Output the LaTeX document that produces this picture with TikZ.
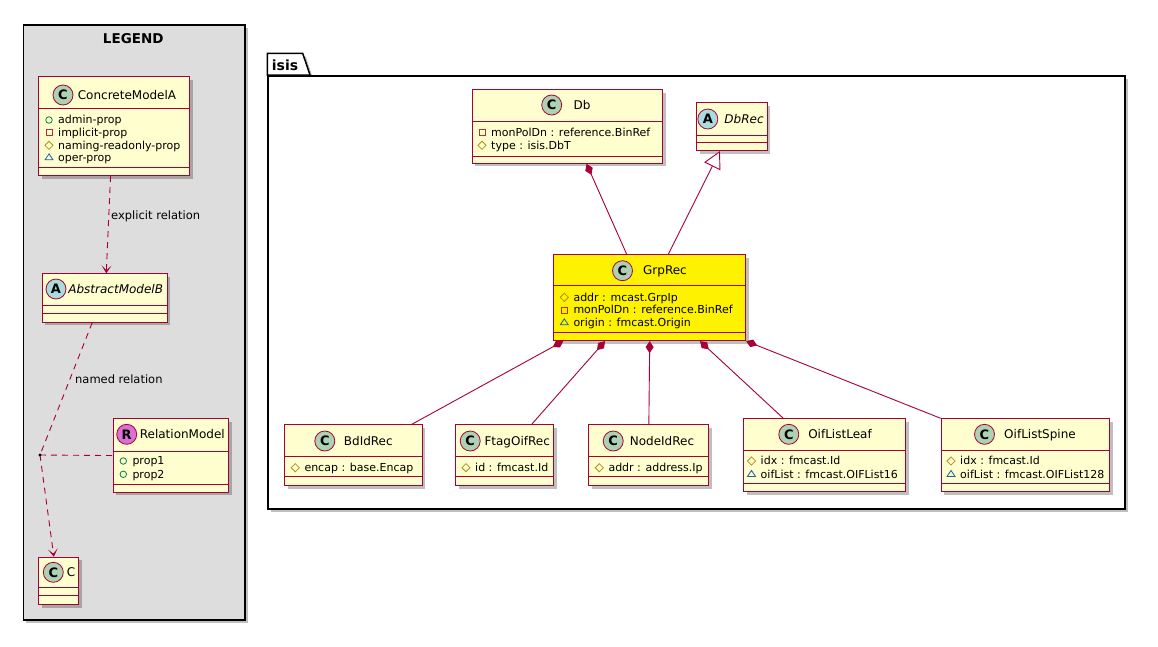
\documentclass[tikz,border=0pt]{standalone}
\usepackage{fontspec}
\setmainfont{DejaVu Sans}
\usepackage{xcolor}
\usepackage{tikz}
\usetikzlibrary{arrows.meta,positioning,shadows,shapes.geometric}
\definecolor{umlred}{HTML}{A80036}
\definecolor{umlfill}{HTML}{FEFECE}
\definecolor{spotC}{HTML}{ADD1B2}
\definecolor{spotA}{HTML}{A9DCDF}
\definecolor{spotR}{HTML}{DA70D6}
\definecolor{vpub}{HTML}{038048}
\definecolor{vpriv}{HTML}{C82930}
\definecolor{vprot}{HTML}{B38D22}
\definecolor{vpkg}{HTML}{1963A0}
\definecolor{legendbg}{HTML}{DDDDDD}

\begin{document}
\begin{tikzpicture}[x=1pt,y=-1pt,
      myshadow/.style={
         drop shadow={shadow xshift=3pt,shadow yshift=-3pt,opacity=0.25,fill=black}},
      classbox/.style={
         draw=umlred,
         line width=1.1pt,
         inner sep=0pt,
         anchor=north west,
         myshadow},
      sepline/.style={draw=umlred, line width=0.9pt},
      spot/.style={
         circle,
         draw=umlred,
         line width=0.8pt,
         minimum size=20pt,
         inner sep=0pt,
         font=\fontsize{13}{13}\selectfont\bfseries},
      clsname/.style={anchor=base, inner sep=0pt, font=\fontsize{12}{14}\selectfont},
      absname/.style={clsname, font=\fontsize{12}{14}\selectfont\itshape},
      attr/.style={anchor=base west, inner sep=0pt, font=\fontsize{11}{13}\selectfont},
      vispub/.style={circle, draw=vpub, line width=0.8pt, minimum size=6.5pt, inner sep=0pt},
      vispriv/.style={rectangle, draw=vpriv, line width=0.8pt, minimum size=6pt, inner sep=0pt},
      visprot/.style={diamond, draw=vprot, line width=0.8pt, minimum size=8.5pt, inner sep=0pt},
      vispkg/.style={isosceles triangle, shape border rotate=90, isosceles triangle stretches,
         draw=vpkg, line width=0.8pt, minimum height=6pt, minimum width=8pt, inner sep=0pt},
      comp/.style={draw=umlred, line width=0.9pt, {Diamond[length=12pt,width=8pt]}-},
      inherit/.style={draw=umlred, line width=0.9pt, {Triangle[open,fill=white,length=17pt,width=18pt]}-},
      dashline/.style={draw=umlred, line width=0.9pt, dash pattern=on 6pt off 5pt},
      dep/.style={dashline, -{Stealth[length=8pt,width=10pt,inset=5pt]}},
      edgelabel/.style={font=\fontsize{11.5}{13}\selectfont, inner sep=2pt},
      boxtitle/.style={anchor=base, inner sep=0pt, font=\fontsize{13.5}{15}\selectfont\bfseries},
      pkgline/.style={draw=black, line width=1.5pt, fill=white, myshadow}
      ]
      \useasboundingbox (0,0) rectangle (1158,646);

      % legend frame
      \node[pkgline, fill=legendbg, anchor=north west, inner sep=0pt,
            minimum width=221.3pt, minimum height=595.3pt] (legend) at (22.7,24) {};
      \node[boxtitle] (legendtitle) at (133.3,43.3) {LEGEND};

      % package isis: tab first, then the frame
      \node[anchor=north west, inner sep=0pt, minimum width=856.7pt, minimum height=433pt] (isis) at (267.3,75) {};
      \draw[pkgline] (isis.north west) -- ++(0,-21.7) -- ++(35.4,0) -- ([xshift=42.7pt]isis.north west) -- cycle;
      \node[pkgline, anchor=north west, inner sep=0pt,
            minimum width=856.7pt, minimum height=433pt] (isisframe) at (267.3,75) {};
      \node[boxtitle, anchor=base west, font=\fontsize{14}{16}\selectfont\bfseries] (isistitle) at (271.7,70) {isis};

    \foreach \n/\xa/\ya/\xb/\yb/\la/\lb/\f in {% name/left/top/right/bottom/lines/fill
      cma/38/76/189/175/108/167/umlfill,
      abm/41.7/273.3/166.7/321.7/305.7/313.3/umlfill,
      cc/38.3/556.7/78.3/604.3/587.7/595.7/umlfill,
      relm/112.7/418.3/228.3/491.7/451/484/umlfill,
      db/471.7/89.3/662.3/162.7/121.7/156/umlfill,
      dbrec/696/102.3/766.7/150/135/142.3/umlfill,
      grp/553.3/254.3/745/340/285.7/332.7/yellow,
      bdid/284/424.3/421.7/485/456.7/476.7/umlfill,
      ftag/455.3/424.3/553.3/485/456.7/476.7/umlfill,
      nodeid/588.3/424.3/708.3/485/456.7/476.7/umlfill,
      leaf/743.3/418.3/905/491/450/483.3/umlfill,
      spine/940.7/418.3/1109.3/491/450/483.3/umlfill}
    {
      \node[classbox, fill=\f, minimum width={\xb-\xa}, minimum height={\yb-\ya}] (\n) at (\xa,\ya) {};
      \draw[sepline] (\n.west |- 0,\la) -- (\n.east |- 0,\la);
      \draw[sepline] (\n.west |- 0,\lb) -- (\n.east |- 0,\lb);
    }

    \foreach \n/\ic/\col/\ix/\iy/\nx/\sty/\txt in {% class/letter/colour/spot x/y/name x/style/name
      cma/C/spotC/63/95/127/clsname/ConcreteModelA,
      abm/A/spotA/56/289/115.7/absname/AbstractModelB,
      cc/C/spotC/53.3/572.3/71/clsname/C,
      relm/R/spotR/126.7/434.3/182.3/clsname/RelationModel,
      db/C/spotC/551.7/105/582/clsname/Db,
      dbrec/A/spotA/707.8/119/744/absname/DbRec,
      grp/C/spotC/622.5/270.7/665/clsname/GrpRec,
      bdid/C/spotC/324.8/441/368.3/clsname/BdIdRec,
      ftag/C/spotC/470.2/441/517.2/clsname/FtagOifRec,
      nodeid/C/spotC/613.2/441/662/clsname/NodeIdRec,
      leaf/C/spotC/788.8/434.3/840/clsname/OifListLeaf,
      spine/C/spotC/984.5/434.3/1040/clsname/OifListSpine}
    {
      \node[spot, fill=\col] (\n-spot) at (\ix,\iy) {\ic};
      \node[\sty] (\n-name) at (\nx,\iy+4) {\txt};
    }

    \foreach \vis/\tx/\ty/\txt [count=\k] in {% visibility/x/y/text
      pub/58/120/admin-prop,
      priv/58/132.7/implicit-prop,
      prot/58/145.3/naming-readonly-prop,
      pkg/58/157.7/oper-prop,
      pub/132.3/461/prop1,
      pub/132.3/474.3/prop2,
      priv/491/132.3/monPolDn : reference.BinRef,
      prot/491/145.3/type : isis.DbT,
      prot/573.3/297.3/addr : mcast.GrpIp,
      priv/573.3/310/monPolDn : reference.BinRef,
      pkg/573.3/322.7/origin : fmcast.Origin,
      prot/304.3/467.7/encap : base.Encap,
      prot/475/467.7/id : fmcast.Id,
      prot/608.3/467.7/addr : address.Ip,
      prot/760.5/461/idx : fmcast.Id,
      pkg/760.5/474.3/oifList : fmcast.OIFList16,
      prot/960/461/idx : fmcast.Id,
      pkg/960/474.3/oifList : fmcast.OIFList128}
    {
      \node[vis\vis] (vis\k) at (\tx-9,\ty) {};
      \node[attr] (attr\k) at (\tx,\ty+3.8) {\txt};
    }

    % legend relations
    \draw[dep] ([xshift=-3.5pt]cma.south) -- node[edgelabel, pos=0.41, right] (lblexplicit) {explicit relation} ([xshift=1.5pt]abm.north);
    \coordinate (relpt) at (40,455);
    \draw[dashline] ([xshift=-12.6pt]abm.south) -- node[edgelabel, pos=0.43, right, xshift=3pt] (lblnamed) {named relation} (relpt);
    \draw[dashline] (relpt) -- (relm.west);
    \draw[dep] (relpt) -- ([xshift=-5pt]cc.north);
    \fill[black] (relpt) circle (1.6pt);

    % isis relations
    \draw[inherit] ([xshift=-12pt]dbrec.south) -- ([xshift=115pt]grp.north west);
    \foreach \i/\di/\j/\dj in {% whole/shift/part/shift
      db.south/19pt/grp.north west/73.4pt,
      grp.south west/10pt/bdid.north east/-11pt,
      grp.south west/51.7pt/ftag.north west/76.4pt,
      grp.south/0pt/nodeid.north/0pt,
      grp.south west/146.7pt/leaf.north west/40pt,
      grp.south east/0pt/spine.north west/0pt}
       \draw[comp] ([xshift=\di]\i) -- ([xshift=\dj]\j);
    \end{tikzpicture}
\end{document}
